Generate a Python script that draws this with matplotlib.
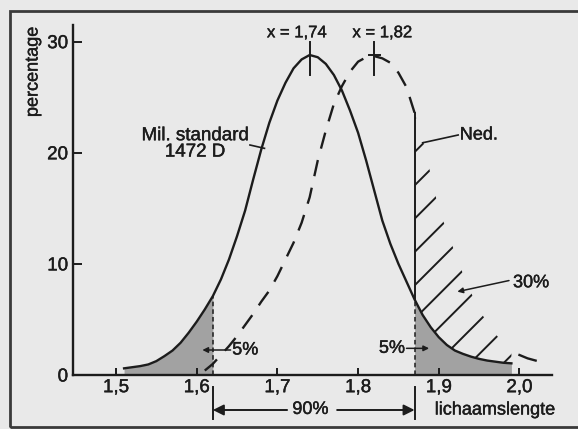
"""Body height distribution: Mil. standard 1472 D vs Dutch population."""

import numpy as np
import matplotlib
matplotlib.use("Agg")
import matplotlib.pyplot as plt
import matplotlib.patheffects as pe
from matplotlib.patches import Rectangle

# --- data ------------------------------------------------------------------
# Mil. standard 1472 D (solid curve)
MIL_X = [1.51, 1.52, 1.53, 1.54, 1.55, 1.56, 1.57, 1.58, 1.59, 1.60,
         1.61, 1.62, 1.63, 1.64, 1.65, 1.66, 1.67, 1.68, 1.69, 1.70,
         1.71, 1.72, 1.73, 1.74, 1.75, 1.76, 1.77, 1.78, 1.79, 1.80,
         1.81, 1.82, 1.83, 1.84, 1.85, 1.86, 1.87, 1.88, 1.89, 1.90,
         1.91, 1.92, 1.93, 1.94, 1.95, 1.96, 1.97, 1.98, 1.99]
MIL_Y = [0.6, 0.7, 0.8, 0.95, 1.25, 1.7, 2.2, 2.9, 3.8, 4.8,
         5.9, 7.1, 8.6, 10.4, 12.5, 14.8, 17.6, 20.3, 22.7, 24.7,
         26.3, 27.6, 28.4, 28.8, 28.6, 28.0, 27.0, 25.6, 23.8, 21.8,
         19.3, 16.6, 13.9, 11.8, 10.0, 8.4, 6.8, 5.4, 4.3, 3.4,
         2.7, 2.2, 1.9, 1.65, 1.45, 1.3, 1.2, 1.1, 1.05]

# Ned. (dashed curve)
NED_X = [1.61, 1.62, 1.63, 1.64, 1.65, 1.66, 1.67, 1.68, 1.69, 1.70,
         1.71, 1.72, 1.73, 1.74, 1.75, 1.76, 1.77, 1.78, 1.79, 1.80,
         1.81, 1.82, 1.83, 1.84, 1.85, 1.86, 1.87, 1.88, 1.89, 1.90,
         1.91, 1.92, 1.93, 1.94, 1.95, 1.96, 1.97, 1.98, 1.99, 2.00,
         2.01, 2.02]
NED_Y = [0.4, 1.0, 1.8, 2.6, 3.5, 4.5, 5.5, 6.6, 7.6, 8.9,
         10.4, 11.9, 13.7, 16.0, 19.3, 22.0, 24.4, 26.0, 27.3, 28.2,
         28.6, 28.7, 28.5, 28.1, 27.2, 25.9, 23.6, 21.3, 18.0, 14.9,
         13.0, 11.0, 9.1, 7.4, 5.9, 4.7, 3.7, 2.9, 2.3, 1.8,
         1.5, 1.3]

MEAN_MIL = 1.74
MEAN_NED = 1.82
CUT_LOW = 1.62    # 5 % limit, lower
CUT_HIGH = 1.87   # 5 % limit, upper

XTICKS = [1.5, 1.6, 1.7, 1.8, 1.9, 2.0]
XTICK_LABELS = ["1,5", "1,6", "1,7", "1,8", "1,9", "2,0"]
YTICKS = [0, 10, 20, 30]
YTICK_LABELS = ["0", "10", "20", "30"]

# --- style ------------------------------------------------------------------
INK = "#1c1c1c"
PAPER = "#e9e9e9"
GREY = "#a2a2a2"
FS = 13

plt.rcParams["font.family"] = ["Liberation Sans", "DejaVu Sans"]
plt.rcParams["hatch.linewidth"] = 1.4
plt.rcParams["hatch.color"] = INK

mx, my = np.array(MIL_X), np.array(MIL_Y)
nx, ny = np.array(NED_X), np.array(NED_Y)

fig = plt.figure(figsize=(5.78, 4.29), dpi=100, facecolor=PAPER)
ax = fig.add_axes([73 / 578, 1 - 375 / 429, (552 - 73) / 578, (375 - 25) / 429])
ax.set_facecolor("none")
ax.set_xlim(1.4467, 2.0403)
ax.set_ylim(0, 31.5)

for s in ["top", "right"]:
    ax.spines[s].set_visible(False)
for s in ["left", "bottom"]:
    ax.spines[s].set_linewidth(1.7)
    ax.spines[s].set_color(INK)

ax.set_xticks(XTICKS, XTICK_LABELS)
ax.set_yticks(YTICKS, YTICK_LABELS)
ax.tick_params(axis="x", direction="in", length=5, width=1.4, labelsize=13.5,
               colors=INK, pad=3)
ax.tick_params(axis="y", direction="in", length=6.5, width=1.4, labelsize=13.5,
               colors=INK, pad=3.5)

# shaded 5% tails under the solid curve
lo = mx <= CUT_LOW + 1e-9
hi = mx >= CUT_HIGH - 1e-9
ax.fill_between(mx[lo], 0, my[lo], color=GREY, lw=0)
ax.fill_between(mx[hi], 0, my[hi], color=GREY, lw=0)

# hatched 30% area between both curves
hat = (nx >= CUT_HIGH - 1e-9) & (nx <= mx[-1] + 1e-9)
ax.fill_between(nx[hat], np.interp(nx[hat], mx, my), ny[hat],
                facecolor="none", edgecolor=INK, hatch="/", lw=0)

# curves
ax.plot(mx, my, color=INK, lw=1.7)
dash = nx <= CUT_HIGH + 1e-9
ax.plot(nx[dash], ny[dash], color=INK, lw=1.7, ls=(0, (7, 5)))
ax.plot(nx[-3:], ny[-3:], color=INK, lw=1.7)

# 5% limits
y_lo = np.interp(CUT_LOW, mx, my)
y_hi = np.interp(CUT_HIGH, mx, my)
y_ned = np.interp(CUT_HIGH, nx, ny)
ax.plot([CUT_LOW, CUT_LOW], [0, y_lo], color=INK, lw=1.1, ls=(0, (3, 2)))
ax.plot([CUT_HIGH, CUT_HIGH], [0, y_hi], color=INK, lw=1.1, ls=(0, (3, 2)))
ax.plot([CUT_HIGH, CUT_HIGH], [y_hi, y_ned], color=INK, lw=1.4)
for xc in (CUT_LOW, CUT_HIGH):
    ax.plot([xc, xc], [-1.1, -4.0], color=INK, lw=1.4, clip_on=False)

# 90% span
arrow = dict(arrowstyle="-|>", color=INK, lw=1.4, mutation_scale=16,
             shrinkA=0, shrinkB=0)
ax.annotate("", xy=(CUT_LOW, -3.15), xytext=(1.712, -3.15),
            arrowprops=arrow, annotation_clip=False)
ax.annotate("", xy=(CUT_HIGH, -3.15), xytext=(1.774, -3.15),
            arrowprops=arrow, annotation_clip=False)
ax.text(1.741, -3.1, "90%", ha="center", va="center", fontsize=FS,
        color=INK, clip_on=False)
ax.text(1.895, -3.15, "lichaamslengte", ha="left", va="center", fontsize=FS,
        color=INK, clip_on=False)

# mean markers
for m in (MEAN_MIL, MEAN_NED):
    ax.plot([m, m], [27.0, 30.0], color=INK, lw=1.4)
ax.plot([MEAN_NED - 0.007, MEAN_NED + 0.007], [28.8, 28.8], color=INK, lw=1.4)
ax.text(1.724, 30.8, "x = 1,74", ha="center", va="center", fontsize=12, color=INK)
ax.text(1.830, 30.8, "x = 1,82", ha="center", va="center", fontsize=12, color=INK)

# labels
ax.text(1.598, 20.8, "Mil. standard\n1472 D", ha="center", va="center",
        fontsize=13.5, color=INK, linespacing=0.95)
ax.plot([1.666, 1.684], [20.7, 20.4], color=INK, lw=1.2)

ax.text(1.926, 21.6, "Ned.", ha="left", va="center", fontsize=FS, color=INK)
ax.plot([1.880, 1.924], [20.9, 21.6], color=INK, lw=1.2)

small = dict(arrowstyle="-|>", color=INK, lw=1.1, mutation_scale=8,
             shrinkA=0, shrinkB=0)
ax.text(1.992, 8.3, "30%", ha="left", va="center", fontsize=FS, color=INK)
ax.annotate("", xy=(1.923, 7.5), xytext=(1.987, 8.5), arrowprops=small)

ax.text(1.644, 2.25, "5%", ha="left", va="center", fontsize=FS, color=INK)
ax.annotate("", xy=(1.607, 2.25), xytext=(1.642, 2.25), arrowprops=small)
ax.text(1.858, 2.4, "5%", ha="right", va="center", fontsize=FS, color=INK)
ax.annotate("", xy=(1.888, 2.4), xytext=(1.860, 2.4), arrowprops=small)

fig.text(33 / 578, 1 - 72 / 429, "percentage", rotation=90, ha="center",
         va="center", fontsize=FS, color=INK)

# slightly heavier, printed-looking type
ink_fx = [pe.withStroke(linewidth=0.3, foreground=INK)]
for t in ax.texts + fig.texts + ax.get_xticklabels() + ax.get_yticklabels():
    t.set_path_effects(ink_fx)

# outer frame of the scanned figure (cut off on the right)
fig.add_artist(Rectangle((10 / 578, 2 / 429), 1.5, 416 / 429,
                         transform=fig.transFigure, fill=False, lw=2,
                         ec="#3a3a3a"))

fig.savefig("out.png", dpi=100, facecolor=PAPER)
plt.close(fig)
